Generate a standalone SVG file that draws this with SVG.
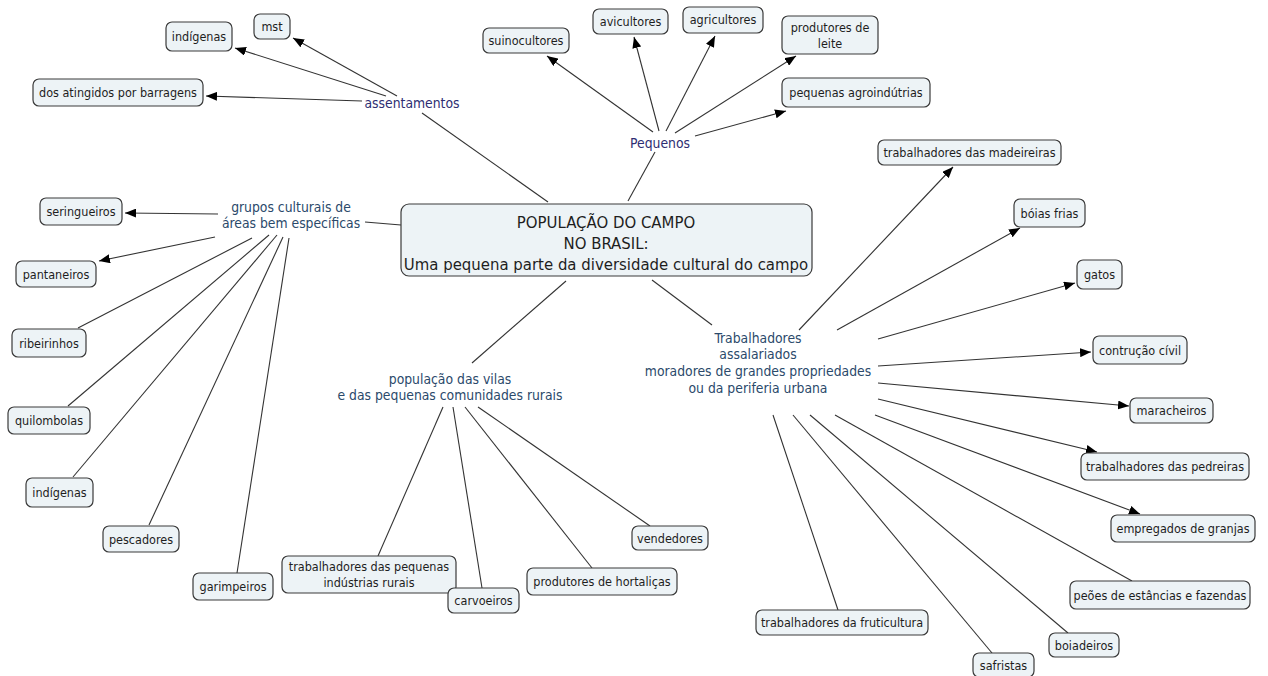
<svg xmlns="http://www.w3.org/2000/svg" width="1268" height="676" viewBox="0 0 1268 676">
<style>
.n rect{fill:#edf3f6;stroke:#3a3a3a;stroke-width:1.2}
.n text{font-family:"DejaVu Sans Condensed","DejaVu Sans",sans-serif;font-size:12.5px;fill:#1e1e1e;text-anchor:middle}
.c rect{fill:#edf3f6;stroke:#3a3a3a;stroke-width:1.2}
.c text{font-family:"DejaVu Sans Condensed","DejaVu Sans",sans-serif;font-size:16.6px;fill:#1e1e1e;text-anchor:middle}
.lp text{font-family:"DejaVu Sans Condensed","DejaVu Sans",sans-serif;font-size:13.8px;fill:#2e2e72;text-anchor:middle}
.lb text{font-family:"DejaVu Sans Condensed","DejaVu Sans",sans-serif;font-size:13.8px;fill:#2b4a6b;text-anchor:middle}
#edges line{stroke:#333;stroke-width:1.1}
#edges line.a{marker-end:url(#ah)}
</style>
<defs>
<marker id="ah" markerUnits="userSpaceOnUse" markerWidth="11" markerHeight="9" refX="11" refY="4.5" orient="auto">
<path d="M0,0 L11,4.5 L0,9 z" fill="#000"/>
</marker>
</defs>
<rect width="1268" height="676" fill="#fff"/>
<g id="edges">
<line x1="548" y1="202" x2="422" y2="113"/>
<line class="a" x1="397" y1="96" x2="293" y2="38"/>
<line class="a" x1="386" y1="96" x2="235" y2="48"/>
<line class="a" x1="362" y1="101" x2="206" y2="96"/>
<line x1="628" y1="201" x2="655" y2="152"/>
<line class="a" x1="653" y1="132" x2="547" y2="56"/>
<line class="a" x1="659" y1="131" x2="634" y2="37"/>
<line class="a" x1="666" y1="131" x2="715" y2="36"/>
<line class="a" x1="675" y1="133" x2="796" y2="56"/>
<line class="a" x1="695" y1="136" x2="786" y2="111"/>
<line x1="365" y1="222" x2="401" y2="225"/>
<line class="a" x1="218" y1="214" x2="125" y2="213"/>
<line class="a" x1="215" y1="237" x2="99" y2="261"/>
<line x1="252" y1="238" x2="78" y2="328"/>
<line x1="269" y1="235" x2="68" y2="406"/>
<line x1="277" y1="235" x2="73" y2="477"/>
<line x1="283" y1="237" x2="149" y2="525"/>
<line x1="289" y1="238" x2="237" y2="573"/>
<line x1="566" y1="281" x2="472" y2="363"/>
<line x1="443" y1="407" x2="378" y2="556"/>
<line x1="453" y1="407" x2="482" y2="588"/>
<line x1="465" y1="407" x2="592" y2="568"/>
<line x1="478" y1="407" x2="650" y2="526"/>
<line x1="652" y1="280" x2="712" y2="325"/>
<line class="a" x1="799" y1="330" x2="953" y2="167"/>
<line class="a" x1="837" y1="330" x2="1020" y2="228"/>
<line class="a" x1="878" y1="339" x2="1075" y2="283"/>
<line class="a" x1="878" y1="366" x2="1091" y2="352"/>
<line class="a" x1="878" y1="383" x2="1129" y2="406"/>
<line class="a" x1="878" y1="399" x2="1097" y2="452"/>
<line class="a" x1="875" y1="415" x2="1140" y2="514"/>
<line x1="835" y1="415" x2="1132" y2="581"/>
<line x1="810" y1="415" x2="1068" y2="633"/>
<line x1="793" y1="415" x2="992" y2="653"/>
<line x1="773" y1="415" x2="838" y2="610"/>
</g>
<g id="center" class="c"><rect x="401" y="204" width="411" height="72" rx="8"/><text x="606" y="228">POPULAÇÃO DO CAMPO</text><text x="606" y="249">NO BRASIL:</text><text x="606" y="270">Uma pequena parte da diversidade cultural do campo</text></g>
<g id="assentamentos" class="lp"><text x="412" y="108">assentamentos</text></g>
<g id="pequenos" class="lp"><text x="660" y="148">Pequenos</text></g>
<g id="grupos" class="lb"><text x="291" y="212">grupos culturais de</text><text x="291" y="228">áreas bem específicas</text></g>
<g id="populacao" class="lb"><text x="450" y="384">população das vilas</text><text x="450" y="400">e das pequenas comunidades rurais</text></g>
<g id="trabalhadores" class="lb"><text x="758" y="343">Trabalhadores</text><text x="758" y="359">assalariados</text><text x="758" y="376">moradores de grandes propriedades</text><text x="758" y="393">ou da periferia urbana</text></g>
<g id="mst" class="n"><rect x="254" y="14" width="36" height="25" rx="6"/><text x="272" y="31">mst</text></g>
<g id="indigenas1" class="n"><rect x="166" y="22" width="66" height="29" rx="6"/><text x="199" y="41">indígenas</text></g>
<g id="atingidos" class="n"><rect x="33" y="79" width="170" height="27" rx="6"/><text x="118" y="97">dos atingidos por barragens</text></g>
<g id="suinocultores" class="n"><rect x="483" y="28" width="86" height="25" rx="6"/><text x="526" y="45">suinocultores</text></g>
<g id="avicultores" class="n"><rect x="593" y="9" width="75" height="25" rx="6"/><text x="630.5" y="26">avicultores</text></g>
<g id="agricultores" class="n"><rect x="683" y="7" width="80" height="26" rx="6"/><text x="723" y="24">agricultores</text></g>
<g id="leite" class="n"><rect x="782" y="16" width="96" height="38" rx="6"/><text x="830" y="32">produtores de</text><text x="830" y="48">leite</text></g>
<g id="agroindutrias" class="n"><rect x="782" y="78" width="148" height="29" rx="6"/><text x="856" y="97">pequenas agroindútrias</text></g>
<g id="madeireiras" class="n"><rect x="878" y="140" width="183" height="25" rx="6"/><text x="969.5" y="157">trabalhadores das madeireiras</text></g>
<g id="boias" class="n"><rect x="1014" y="199" width="71" height="28" rx="6"/><text x="1049.5" y="218">bóias frias</text></g>
<g id="gatos" class="n"><rect x="1077" y="260" width="45" height="29" rx="6"/><text x="1099.5" y="279">gatos</text></g>
<g id="construcao" class="n"><rect x="1093" y="336" width="94" height="28" rx="6"/><text x="1140" y="355">contrução cívil</text></g>
<g id="maracheiros" class="n"><rect x="1130" y="398" width="83" height="25" rx="6"/><text x="1171.5" y="415">maracheiros</text></g>
<g id="pedreiras" class="n"><rect x="1081" y="453" width="168" height="27" rx="6"/><text x="1165" y="471">trabalhadores das pedreiras</text></g>
<g id="granjas" class="n"><rect x="1111" y="515" width="144" height="27" rx="6"/><text x="1183" y="533">empregados de granjas</text></g>
<g id="peoes" class="n"><rect x="1070" y="581" width="180" height="28" rx="6"/><text x="1160" y="600">peões de estâncias e fazendas</text></g>
<g id="boiadeiros" class="n"><rect x="1049" y="633" width="70" height="24" rx="6"/><text x="1084" y="650">boiadeiros</text></g>
<g id="safristas" class="n"><rect x="973" y="653" width="61" height="24" rx="6"/><text x="1003.5" y="670">safristas</text></g>
<g id="fruticultura" class="n"><rect x="756" y="610" width="172" height="25" rx="6"/><text x="842" y="627">trabalhadores da fruticultura</text></g>
<g id="seringueiros" class="n"><rect x="40" y="198" width="82" height="27" rx="6"/><text x="81" y="216">seringueiros</text></g>
<g id="pantaneiros" class="n"><rect x="16" y="261" width="80" height="26" rx="6"/><text x="56" y="279">pantaneiros</text></g>
<g id="ribeirinhos" class="n"><rect x="12" y="329" width="74" height="28" rx="6"/><text x="49" y="348">ribeirinhos</text></g>
<g id="quilombolas" class="n"><rect x="8" y="407" width="82" height="27" rx="6"/><text x="49" y="425">quilombolas</text></g>
<g id="indigenas2" class="n"><rect x="26" y="478" width="67" height="29" rx="6"/><text x="59.5" y="497">indígenas</text></g>
<g id="pescadores" class="n"><rect x="103" y="526" width="76" height="26" rx="6"/><text x="141" y="544">pescadores</text></g>
<g id="garimpeiros" class="n"><rect x="193" y="573" width="80" height="27" rx="6"/><text x="233" y="591">garimpeiros</text></g>
<g id="pequenasind" class="n"><rect x="282" y="556" width="174" height="37" rx="6"/><text x="369" y="571">trabalhadores das pequenas</text><text x="369" y="587">indústrias rurais</text></g>
<g id="carvoeiros" class="n"><rect x="448" y="588" width="71" height="25" rx="6"/><text x="483.5" y="605">carvoeiros</text></g>
<g id="hortalicas" class="n"><rect x="527" y="568" width="150" height="27" rx="6"/><text x="602" y="586">produtores de hortaliças</text></g>
<g id="vendedores" class="n"><rect x="632" y="526" width="76" height="24" rx="6"/><text x="670" y="543">vendedores</text></g>
</svg>
